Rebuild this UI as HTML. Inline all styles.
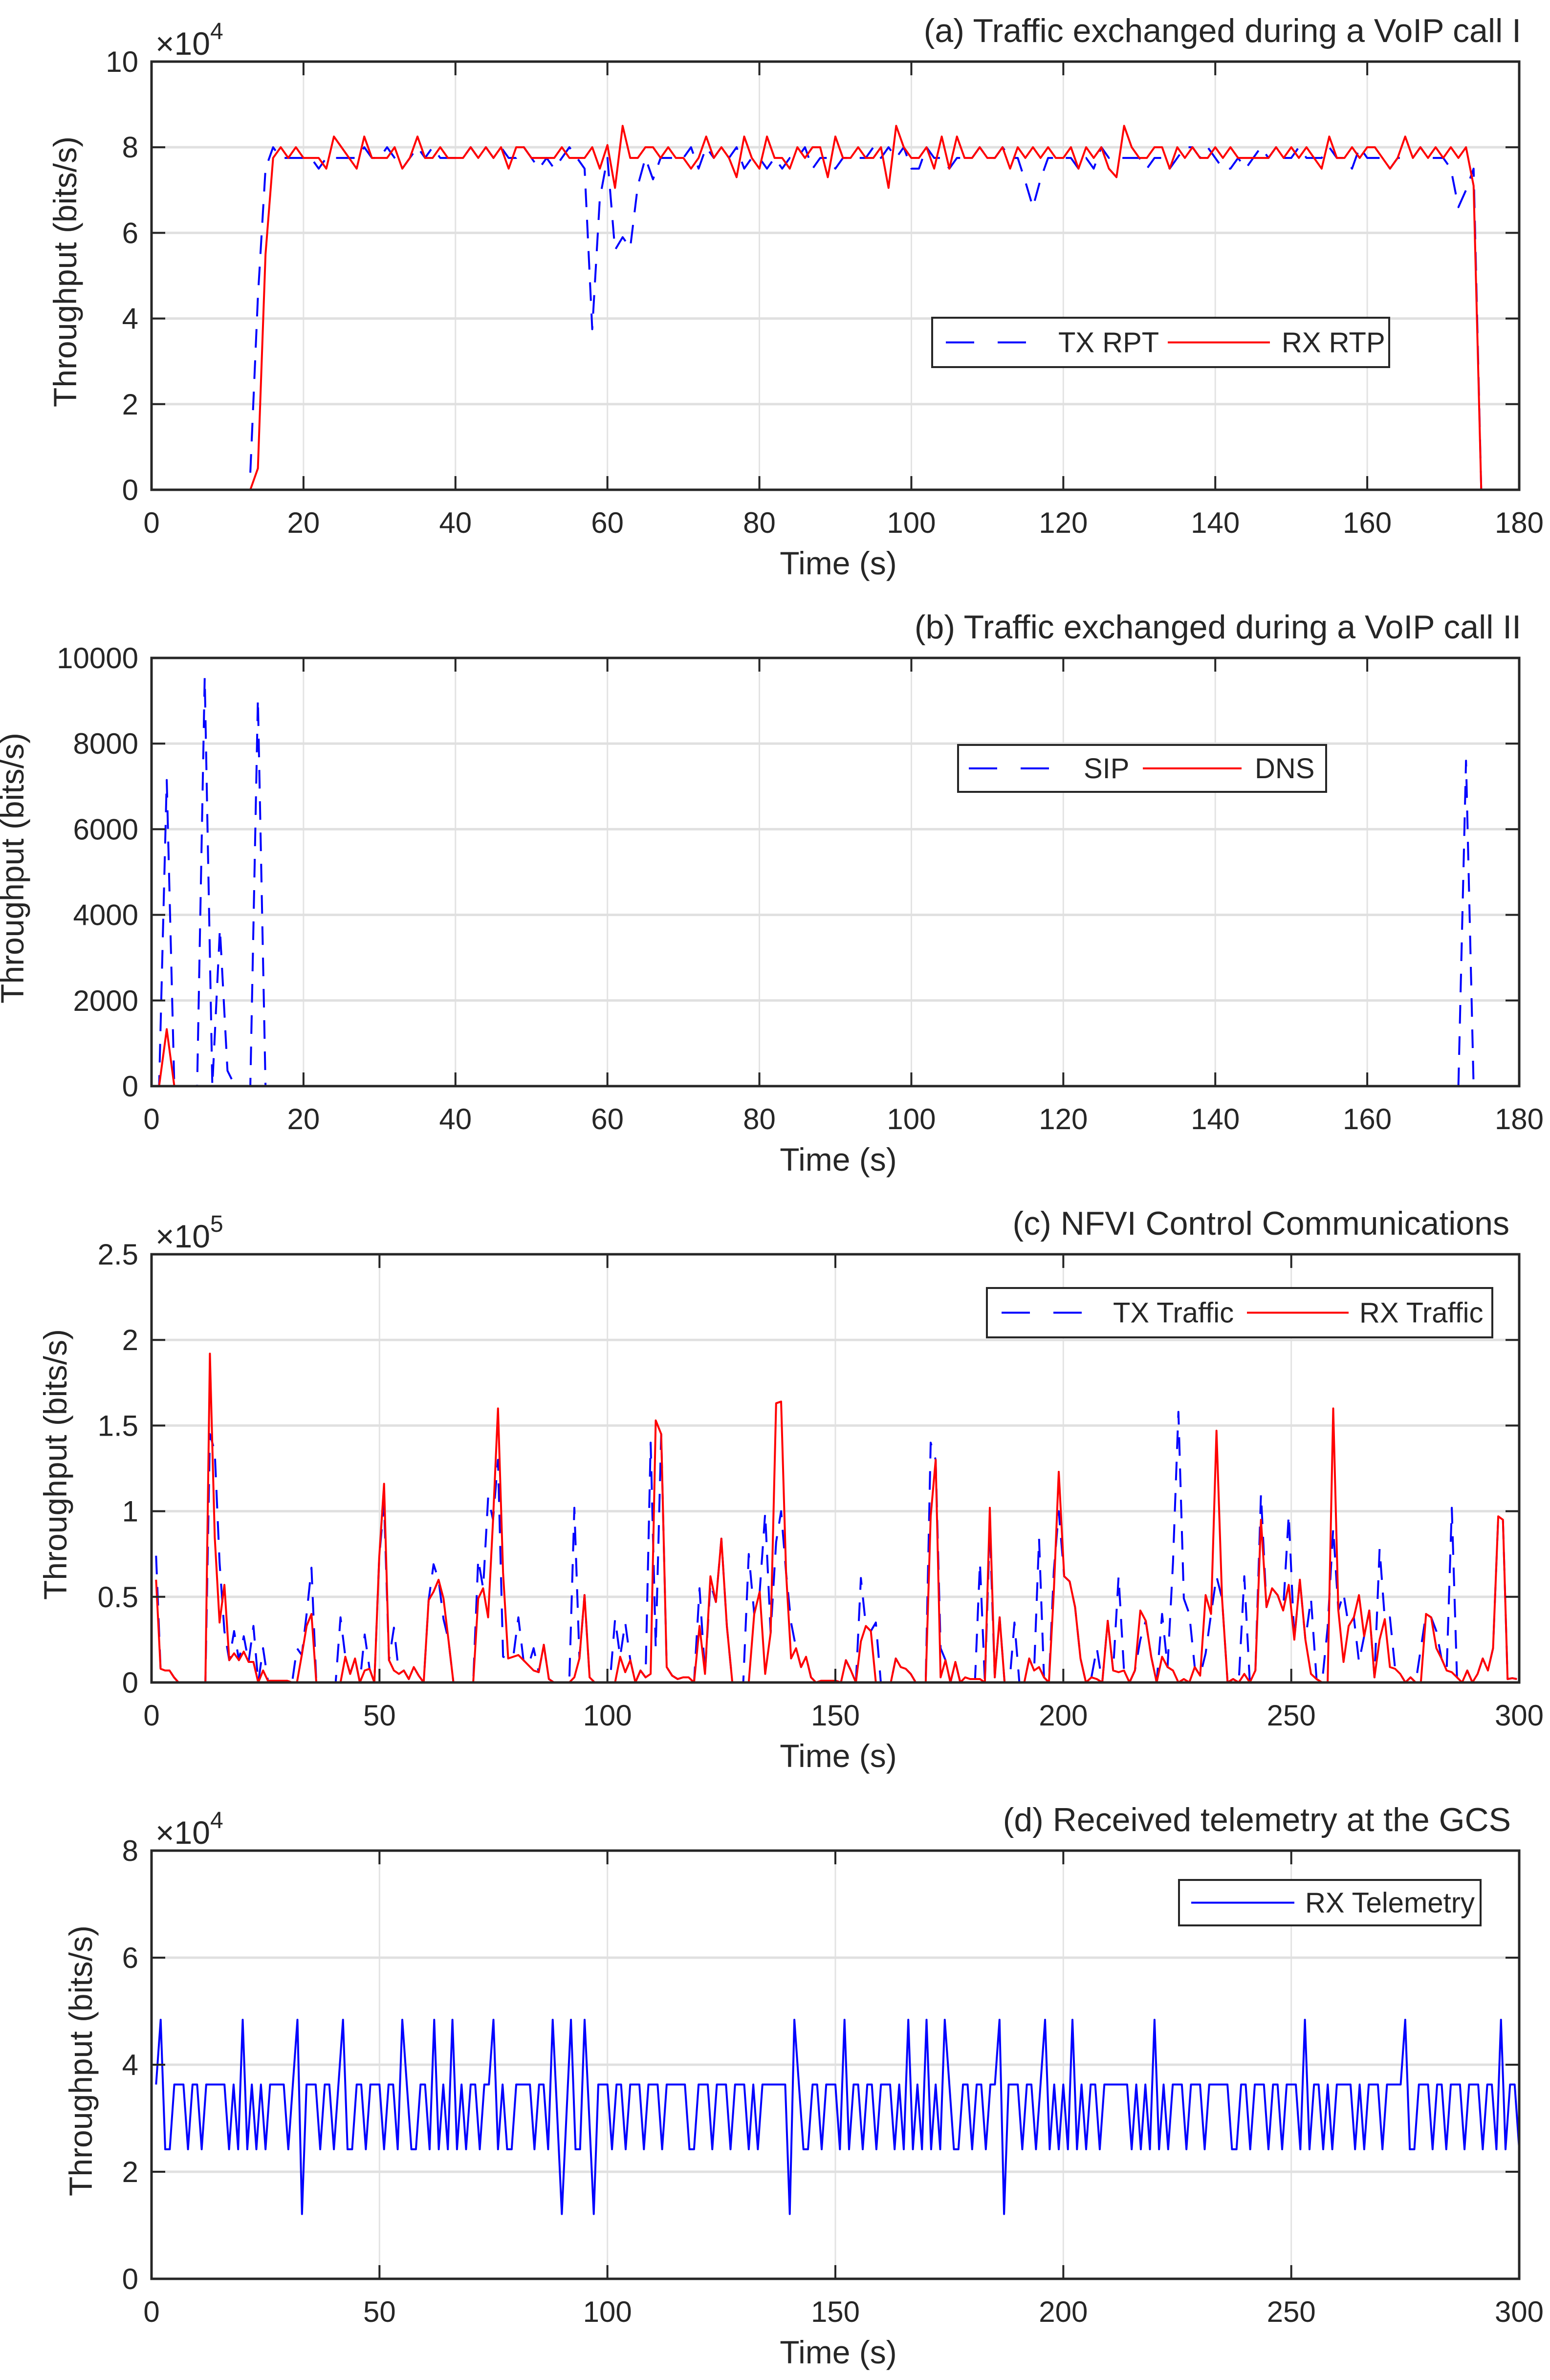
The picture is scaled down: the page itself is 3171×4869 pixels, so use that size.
<!DOCTYPE html>
<html>
<head>
<meta charset="utf-8">
<style>
html,body{margin:0;padding:0;background:#fff;}
svg{display:block;}
text{font-family:"Liberation Sans",Arial,sans-serif;fill:#262626;}
</style>
</head>
<body>
<svg id="fig" xmlns="http://www.w3.org/2000/svg" width="3171" height="4869" viewBox="0 0 3171 4869">
<rect x="0" y="0" width="3171" height="4869" fill="#fff"/>
</svg>
<script>
// ---------- Panel (a) data: VoIP call I (x1e4 bits/s), 1 s sampling ----------
const aRxStart = 0;
const aRxValues = [0,0,0,0,0,0,0,0,0,0,0,0,0,0,0.5,5.5,7.75,
8.0,7.75,8.0,7.75,7.75,7.75,7.5,8.25,8.0,7.75,7.5,8.25,7.75,7.75,7.75,8.0,7.5,7.75,8.25,7.75,7.75,8.0,7.75,7.75,
7.75,8.0,7.75,8.0,7.75,8.0,7.5,8.0,8.0,7.75,7.75,7.75,7.75,8.0,7.75,7.75,7.75,8.0,7.5,8.05,7.05,8.5,7.75,7.75,
8.0,8.0,7.75,8.0,7.75,7.75,7.5,7.75,8.25,7.75,8.0,7.75,7.3,8.25,7.75,7.5,8.25,7.75,7.75,7.5,8.0,7.75,8.0,8.0,
7.3,8.25,7.75,7.75,8.0,7.75,7.75,8.0,7.05,8.5,8.0,7.75,7.75,8.0,7.5,8.25,7.5,8.25,7.75,7.75,8.0,7.75,7.75,8.0,
7.5,8.0,7.75,8.0,7.75,8.0,7.75,7.75,8.0,7.5,8.0,7.75,8.0,7.5,7.3,8.5,8.0,7.75,7.75,8.0,8.0,7.5,8.0,7.75,8.0,
7.75,7.75,8.0,7.75,8.0,7.75,7.75,7.75,7.75,7.75,8.0,7.75,8.0,7.75,8.0,7.75,7.5,8.25,7.75,7.75,8.0,7.75,8.0,8.0,
7.75,7.5,7.75,8.25,7.75,8.0,7.75,8.0,7.75,8.0,7.75,8.0,7.1,0];
const aTxStart = 13;
const aTxValues = [0.4,4.5,7.5,8.0,7.75,7.75,7.75,7.75,7.75,7.5,7.75,7.75,7.75,7.75,7.75,8.0,7.75,7.75,8.0,7.75,
7.5,7.75,8.0,7.75,8.0,7.75,7.75,7.75,7.75,8.0,7.75,8.0,7.75,8.0,7.75,7.75,8.0,7.75,7.5,7.75,7.5,7.75,8.0,7.75,
7.5,3.75,6.8,7.75,5.6,5.9,5.65,7.1,7.75,7.25,7.75,7.75,7.75,7.75,8.0,7.5,8.0,7.75,8.0,7.75,8.0,7.5,7.75,7.75,
7.5,7.75,7.5,7.75,7.75,8.0,7.5,7.75,7.75,7.5,7.75,7.75,7.75,7.75,8.0,7.75,8.0,7.75,8.0,7.5,7.5,8.0,7.75,7.75,
7.5,7.75,7.75,7.75,8.0,7.75,7.75,8.0,7.75,7.75,7.2,6.6,7.25,7.75,7.75,7.75,7.75,7.5,7.75,7.5,8.0,7.75,7.75,
7.75,7.75,7.75,7.5,7.75,7.75,7.5,7.75,8.0,8.0,7.75,8.0,7.75,7.5,7.5,7.75,7.5,7.75,8.0,7.75,8.0,7.75,7.75,8.0,
7.75,7.75,7.75,8.0,7.75,7.75,7.5,8.0,7.75,7.75,7.75,7.5,7.75,7.75,7.75,8.0,7.75,7.75,7.75,7.5,6.6,7.0,7.5,0];
const aYTicks = [0,2,4,6,8,10];
const aXTicks = [0,20,40,60,80,100,120,140,160,180];

// ---------- Panel (b) data: SIP / DNS (bits/s), 1 s sampling ----------
const bSipValues = [0,0,7150,0,0,0,0,9550,0,3680,360,0,0,0,9050,0];
const bSipLateStart = 172;
const bSipLateValues = [0,7600,0,0];
const bDnsValues = [0,0,1330,0];
const bYTicks = [0,2000,4000,6000,8000,10000];
const bXTicks = [0,20,40,60,80,100,120,140,160,180];

// ---------- Panel (c) data: NFVI control (x1e5 bits/s) ----------
// sample-index -> time anchors (s)
const cAnchorIdx = [0, 12, 48, 71, 102, 124, 156, 181, 210, 231, 263, 267];
const cAnchorT   = [1, 12.8, 51, 76, 110.6, 137, 172, 199, 233.6, 259.2, 295.4, 299.5];
const cRxValues = [.6,.08,.07,.07,.03,0,0,0,0,0,0,0,1.92,.85,.35,.57,.13,.17,.13,.18,.12,.12,0,.07,.01,.01,.01,.01,.01,0,
0,.16,.33,.4,0,0,0,0,0,0,.15,.05,.14,0,.07,.08,0,.73,1.16,.13,.07,.05,.07,.02,.09,.04,0,.48,.53,.6,
.49,.25,0,0,0,0,0,.49,.55,.38,.95,1.6,.64,.14,.15,.16,.13,.1,.07,.06,.22,.02,0,0,0,0,.03,.14,.51,.03,
0,0,0,0,0,.15,.06,.13,0,.07,.03,.05,1.53,1.45,.09,.04,.02,.03,.03,0,.33,.05,.62,.47,.84,.33,0,0,0,0,
.4,.53,.05,.29,1.63,1.64,.64,.14,.2,.09,.15,.03,0,.01,.01,.01,.01,0,.13,.07,0,.24,.33,.3,0,0,0,0,
.14,.09,.08,.05,0,0,0,.97,1.3,.03,.13,0,.12,0,.03,.02,.02,.02,0,1.02,.03,.38,0,0,0,0,0,.14,.07,.09,
.03,0,.53,1.23,.62,.59,.44,.14,0,.03,.02,0,.36,.07,.06,.07,0,.07,.42,.36,.15,0,.15,.09,.07,0,.02,0,
.09,.04,.51,.4,1.47,.49,0,.02,0,.05,0,.07,.95,.44,.55,.51,.42,.57,.25,.6,.25,.05,.02,0,0,1.6,.42,.12,
.33,.38,.51,.27,.42,.03,.25,.37,.09,.08,.05,0,.03,0,0,.4,.38,.2,.14,.07,.06,.03,0,.07,0,.05,.14,.07,
.2,.97,.95,.02,.025,.02];
const cTxValues = [.74,.08,.07,.07,.03,0,0,0,0,0,0,0,1.45,1.35,.7,.3,.13,.3,.13,.27,.12,.33,0,.2,.01,.01,.01,.01,.01,0,
.2,.16,.4,.67,0,0,0,0,0,.38,.15,.05,.14,0,.28,.08,0,.73,1.05,.13,.32,.05,.07,.02,.09,.04,0,.48,.69,.6,
.37,.25,0,0,0,0,0,.72,.55,1.08,.95,1.3,.15,.14,.15,.38,.13,.1,.2,.06,.22,.02,0,0,0,0,1.02,.14,.51,.03,
0,0,0,0,.37,.15,.35,.13,0,.07,.03,1.4,.2,1.45,.09,.04,.02,.03,.03,0,.55,.05,.58,.47,.84,.33,0,0,0,.75,
.4,.53,.99,.29,.82,1.0,.64,.35,.2,.09,.15,.03,0,.01,.01,.01,.01,0,.13,.07,0,.61,.33,.3,.35,0,0,0,
.14,.09,.08,.05,0,0,0,1.4,1.3,.2,.13,0,.12,0,.03,.02,.02,.7,0,.9,.03,.38,0,0,.35,0,0,.14,.07,.84,
.03,0,.65,1.0,.62,.59,.44,.14,0,.03,.2,0,.36,.07,.62,.07,0,.07,.25,.36,.15,0,.4,.09,.7,1.58,.49,.4,
.09,.04,.17,.4,.62,.49,0,.02,0,.62,0,.07,1.1,.44,.55,.51,.42,.98,.25,.6,.25,.49,.02,0,.32,.9,.42,.52,
.33,.38,.12,.27,.42,.03,.78,.37,.38,.08,.05,0,.03,0,.2,.4,.38,.3,.14,.07,1.02,.03,0,.07,0,.05,.14,.07,
.2,.97,.95,.02,.025,.02];
const cYTicks = [0,0.5,1,1.5,2,2.5];
const cYTickLabels = ["0","0.5","1","1.5","2","2.5"];
const cXTicks = [0,50,100,150,200,250,300];

// ---------- Panel (d) data: telemetry (x1e4 bits/s), 1 s sampling from t=1 ----------
const dStart = 1;
const dValues = [3.63,4.84,2.42,2.42,3.63,3.63,3.63,2.42,3.63,3.63,2.42,3.63,3.63,3.63,3.63,3.63,2.42,3.63,2.42,4.84,
2.42,3.63,2.42,3.63,2.42,3.63,3.63,3.63,3.63,2.42,3.63,4.84,1.21,3.63,3.63,3.63,2.42,3.63,3.63,2.42,
3.63,4.84,2.42,2.42,3.63,3.63,2.42,3.63,3.63,3.63,2.42,3.63,3.63,2.42,4.84,3.63,2.42,2.42,3.63,3.63,
2.42,4.84,2.42,3.63,2.42,4.84,2.42,3.63,2.42,3.63,3.63,2.42,3.63,3.63,4.84,2.42,3.63,2.42,2.42,3.63,
3.63,3.63,3.63,2.42,3.63,3.63,2.42,4.84,3.03,1.21,3.03,4.84,2.42,2.42,4.84,3.03,1.21,3.63,3.63,3.63,
2.42,3.63,3.63,2.42,3.63,3.63,3.63,2.42,3.63,3.63,3.63,2.42,3.63,3.63,3.63,3.63,3.63,2.42,2.42,3.63,
3.63,3.63,2.42,3.63,3.63,3.63,2.42,3.63,3.63,3.63,2.42,3.63,2.42,3.63,3.63,3.63,3.63,3.63,3.63,1.21,
4.84,3.63,2.42,2.42,3.63,3.63,2.42,3.63,3.63,3.63,2.42,4.84,2.42,3.63,3.63,2.42,3.63,3.63,2.42,3.63,
3.63,3.63,2.42,3.63,2.42,4.84,2.42,3.63,2.42,4.84,2.42,3.63,2.42,4.84,3.63,2.42,2.42,3.63,3.63,2.42,
3.63,3.63,2.42,3.63,3.63,4.84,1.21,3.63,3.63,3.63,2.42,3.63,3.63,2.42,3.63,4.84,2.42,3.63,2.42,3.63,
2.42,4.84,2.42,3.63,2.42,3.63,3.63,2.42,3.63,3.63,3.63,3.63,3.63,3.63,2.42,3.63,2.42,3.63,2.42,4.84,
2.42,3.63,2.42,3.63,3.63,3.63,2.42,3.63,3.63,3.63,2.42,3.63,3.63,3.63,3.63,3.63,2.42,2.42,3.63,3.63,
2.42,3.63,3.63,3.63,2.42,3.63,3.63,2.42,3.63,3.63,3.63,2.42,4.84,2.42,3.63,3.63,2.42,3.63,2.42,3.63,
3.63,3.63,3.63,2.42,3.63,2.42,3.63,3.63,3.63,2.42,3.63,3.63,3.63,3.63,4.84,2.42,2.42,3.63,3.63,3.63,
2.42,3.63,3.63,2.42,3.63,3.63,3.63,2.42,3.63,3.63,3.63,2.42,3.63,3.63,2.42,4.84,2.42,3.63,3.63,2.42];
const dYTicks = [0,2,4,6,8];
const dXTicks = [0,50,100,150,200,250,300];

const NS = "http://www.w3.org/2000/svg";
const svg = document.getElementById("fig");
const L = 310, R = 3108, H = 876;

function mk(tag, attrs, parent) {
  const e = document.createElementNS(NS, tag);
  for (const k in attrs) e.setAttribute(k, attrs[k]);
  (parent || svg).appendChild(e);
  return e;
}
function txt(s, attrs, parent) {
  const e = mk("text", attrs, parent);
  e.textContent = s;
  return e;
}

function panel(p) {
  const g = mk("g", {});
  
  
  const top = p.top, bot = p.top + H;
  const sx = v => L + (v - p.xmin) / (p.xmax - p.xmin) * (R - L);
  const sy = v => bot - (v - p.ymin) / (p.ymax - p.ymin) * H;
  p.sx = sx; p.sy = sy; p.g = g;
  p.xticks.forEach(t => {
    if (t === p.xmin || t === p.xmax) return;
    const l = mk("line", {x1: sx(t), x2: sx(t), y1: top, y2: bot, stroke: "#e3e3e3", "stroke-width": 3}, g);
    
    
  });
  p.yticks.forEach(t => {
    if (t === p.ymin || t === p.ymax) return;
    const l = mk("line", {x1: L, x2: R, y1: sy(t), y2: sy(t), stroke: "#e0e0e0", "stroke-width": 5}, g);
    
    
  });
  return p;
}

function axesOverlay(p) {
  const g = p.g, top = p.top, bot = p.top + H, sx = p.sx, sy = p.sy;
  const box = mk("rect", {x: L, y: top, width: R - L, height: H, fill: "none", stroke: "#262626", "stroke-width": 5}, g);
  
  
  p.xticks.forEach(t => {
    mk("line", {x1: sx(t), x2: sx(t), y1: bot, y2: bot - 28, stroke: "#262626", "stroke-width": 4}, g);
    mk("line", {x1: sx(t), x2: sx(t), y1: top, y2: top + 28, stroke: "#262626", "stroke-width": 4}, g);
    const lab = txt(String(t), {x: sx(t), y: bot + 88, "font-size": 60, "text-anchor": "middle"}, g);
    
    
  });
  p.yticks.forEach((t, i) => {
    mk("line", {x1: L, x2: L + 28, y1: sy(t), y2: sy(t), stroke: "#262626", "stroke-width": 4}, g);
    mk("line", {x1: R, x2: R - 28, y1: sy(t), y2: sy(t), stroke: "#262626", "stroke-width": 4}, g);
    const s = p.ylabels ? p.ylabels[i] : String(t);
    const lab = txt(s, {x: L - 27, y: sy(t) + 21, "font-size": 60, "text-anchor": "end"}, g);
    
    
  });
  const xl = txt("Time (s)", {x: (L + R) / 2 + 6, y: bot + 173, "font-size": 66, "text-anchor": "middle"}, g);
  
  
  const yl = txt("Throughput (bits/s)", {x: 0, y: 0, "font-size": 66, "text-anchor": "middle",
    transform: "translate(" + (p.ylx + 24) + "," + (top + H / 2 - 8) + ") rotate(-90)"}, g);
  
  
  const ti = txt(p.title, {x: p.titleRight, y: top - 40, "font-size": 68, "text-anchor": "end"}, g);
  
  
  if (p.exp) {
    const ex = mk("text", {x: L + 8, y: top - 14, "font-size": 66}, g);
    
    
    const t1 = mk("tspan", {}, ex); t1.textContent = "\u00d710";
    const t2 = mk("tspan", {dy: -32, "font-size": 48}, ex); t2.textContent = p.exp;
  }
}

function series(p, times, values, color, dashed, name) {
  const pts = times.map((t, i) => p.sx(t).toFixed(1) + "," + p.sy(values[i]).toFixed(1)).join(" ");
  const attrs = {points: pts, fill: "none", stroke: color, "stroke-width": 4, "stroke-linejoin": "round"};
  if (dashed) attrs["stroke-dasharray"] = "38 26";
  const pl = mk("polyline", attrs, p.g);
  
  
}

function legend(p, x, y, w, h, entries) {
  const g = mk("g", {}, p.g);
  
  
  mk("rect", {x: x, y: y, width: w, height: h, fill: "#fff", stroke: "#262626", "stroke-width": 4}, g);
  entries.forEach(e => {
    const ln = mk("line", {x1: e.x1, x2: e.x2, y1: y + h / 2, y2: y + h / 2, stroke: e.color, "stroke-width": 4}, g);
    if (e.dashed) ln.setAttribute("stroke-dasharray", "58 48");
    
    
    const t = txt(e.label, {x: e.tx, y: y + h / 2 + 20, "font-size": 58}, g);
    
    
  });
}

const range = (start, n, dt) => Array.from({length: n}, (_, i) => start + i * (dt || 1));
// sample times for panel (c) from anchor table (piecewise linear in sample index)
function anchoredTimes(n, idx, ts) {
  return Array.from({length: n}, (_, i) => {
    let k = 0;
    while (k < idx.length - 2 && i > idx[k + 1]) k++;
    return ts[k] + (i - idx[k]) * (ts[k + 1] - ts[k]) / (idx[k + 1] - idx[k]);
  });
}

// Panel (a)
const pa = panel({name: "panel-a-voip-call-1", top: 126, xmin: 0, xmax: 180, ymin: 0, ymax: 10,
  xticks: aXTicks, yticks: aYTicks, title: "(a) Traffic exchanged during a VoIP call I", titleRight: 3112, ylx: 132, exp: "4"});
series(pa, range(aTxStart, aTxValues.length), aTxValues, "#0000ff", true, "tx-rtp-line");
series(pa, range(aRxStart, aRxValues.length), aRxValues, "#ff0000", false, "rx-rtp-line");
axesOverlay(pa);
legend(pa, 1907, 650, 935, 101, [
  {x1: 1935, x2: 2114, color: "#0000ff", dashed: true, label: "TX RPT", tx: 2165},
  {x1: 2389, x2: 2598, color: "#ff0000", dashed: false, label: "RX RTP", tx: 2622}]);

// Panel (b)
const pb = panel({name: "panel-b-voip-call-2", top: 1346, xmin: 0, xmax: 180, ymin: 0, ymax: 10000,
  xticks: bXTicks, yticks: bYTicks, title: "(b) Traffic exchanged during a VoIP call II", titleRight: 3112, ylx: 24});
series(pb, range(0, 181), range(0, 181).map(() => 0), "#ff0000", false, "dns-baseline");
series(pb, range(0, bSipValues.length), bSipValues, "#0000ff", true, "sip-line-early");
series(pb, range(bSipLateStart, bSipLateValues.length), bSipLateValues, "#0000ff", true, "sip-line-late");
series(pb, range(0, bDnsValues.length), bDnsValues, "#ff0000", false, "dns-line");
axesOverlay(pb);
legend(pb, 1960, 1524, 753, 96, [
  {x1: 1982, x2: 2168, color: "#0000ff", dashed: true, label: "SIP", tx: 2217},
  {x1: 2338, x2: 2540, color: "#ff0000", dashed: false, label: "DNS", tx: 2567}]);

// Panel (c)
const pc = panel({name: "panel-c-nfvi-control", top: 2566, xmin: 0, xmax: 300, ymin: 0, ymax: 2.5,
  xticks: cXTicks, yticks: cYTicks, ylabels: cYTickLabels, title: "(c) NFVI Control Communications", titleRight: 3088, ylx: 112, exp: "5"});
series(pc, anchoredTimes(cTxValues.length, cAnchorIdx, cAnchorT), cTxValues, "#0000ff", true, "tx-traffic-line");
series(pc, anchoredTimes(cRxValues.length, cAnchorIdx, cAnchorT), cRxValues, "#ff0000", false, "rx-traffic-line");
axesOverlay(pc);
legend(pc, 2019, 2635, 1034, 101, [
  {x1: 2049, x2: 2232, color: "#0000ff", dashed: true, label: "TX Traffic", tx: 2277},
  {x1: 2551, x2: 2759, color: "#ff0000", dashed: false, label: "RX Traffic", tx: 2781}]);

// Panel (d)
const pd = panel({name: "panel-d-telemetry", top: 3786, xmin: 0, xmax: 300, ymin: 0, ymax: 8,
  xticks: dXTicks, yticks: dYTicks, title: "(d) Received telemetry at the GCS", titleRight: 3091, ylx: 164, exp: "4"});
series(pd, range(dStart, dValues.length), dValues, "#0000ff", false, "rx-telemetry-line");
axesOverlay(pd);
legend(pd, 2412, 3846, 617, 93, [
  {x1: 2437, x2: 2648, color: "#0000ff", dashed: false, label: "RX Telemetry", tx: 2670}]);
</script>
</body>
</html>
